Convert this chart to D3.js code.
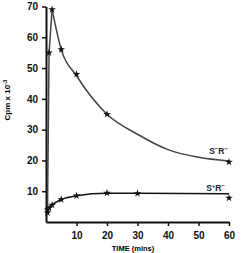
<!DOCTYPE html>
<html>
<head>
<meta charset="utf-8">
<script src="https://cdn.jsdelivr.net/npm/d3@7"></script>
<style>
  body { margin: 0; background: #fff; }
  text { font-family: "Liberation Sans", Arial, sans-serif; }
</style>
</head>
<body>
<script>
// time in minutes, counts in cpm x 10^-3 (measured points)
var timeMinus = [0.5, 1, 2, 5, 10, 20, 60]
var cpmMinus  = [4, 55, 69, 56, 48, 35, 19.5]

var timePlus = [0.5, 1, 2, 5, 10, 20, 30, 60]
var cpmPlus  = [3, 4.5, 5.5, 7.3, 8.5, 9.4, 9.3, 7.8]

// hand-drawn curves
var curveTimeMinus = [0.5, 1, 2, 5, 10, 20, 30, 40, 50, 60]
var curveCpmMinus  = [4, 55, 69, 56, 47.5, 35, 28.5, 23.5, 21, 19.8]

var curveTimePlus = [0.5, 1, 2, 5, 10, 20, 30, 60]
var curveCpmPlus  = [3, 4.5, 5.5, 7.3, 8.5, 9.3, 9.3, 9.2]

var xTicks = [10, 20, 30, 40, 50, 60]
var yTicks = [10, 20, 30, 40, 50, 60, 70]

var W = 241, H = 253

var x = d3.scaleLinear().domain([0, 60]).range([46, 229])
var y = d3.scaleLinear().domain([0, 70]).range([222, 6.5])

var svg = d3.select("body").append("svg")
    .attr("width", W).attr("height", H)

// axes
var gx = svg.append("g")
    .attr("transform", "translate(0," + y(0) + ")")
    .call(d3.axisBottom(x).tickValues(xTicks).tickSize(4).tickSizeOuter(0))
var gy = svg.append("g")
    .attr("transform", "translate(" + x(0) + ",0)")
    .call(d3.axisLeft(y).tickValues(yTicks).tickSize(4).tickSizeOuter(0))

svg.selectAll(".domain").attr("stroke", "#111").attr("stroke-width", 2)
svg.selectAll(".tick line").attr("stroke", "#111").attr("stroke-width", 1.5)
svg.selectAll(".tick text")
    .attr("fill", "#111")
    .style("font-size", "10px")
    .style("font-weight", "bold")
gx.selectAll(".tick text").attr("dy", "0.95em")
gy.selectAll(".tick text").attr("dx", "-0.1em")

// axis titles
svg.append("text")
    .attr("x", 133).attr("y", 251)
    .attr("text-anchor", "middle")
    .style("font-size", "7.5px").style("font-weight", "bold")
    .text("TIME (mins)")

var yl = svg.append("text")
    .attr("transform", "translate(10,100) rotate(-90)")
    .attr("text-anchor", "middle")
    .style("font-size", "8px").style("font-weight", "bold")
yl.append("tspan").text("Cpm x 10")
yl.append("tspan").attr("dy", "-3").style("font-size", "6px").text("-3")

// series
var series = [
  { t: timeMinus, v: cpmMinus, ct: curveTimeMinus, cv: curveCpmMinus, color: "#444" },
  { t: timePlus, v: cpmPlus, ct: curveTimePlus, cv: curveCpmPlus, color: "#111" }
]

var rise = d3.line()
    .x(d => x(d[0]))
    .y(d => y(d[1]))
var decay = d3.line()
    .x(d => x(d[0]))
    .y(d => y(d[1]))
    .curve(d3.curveMonotoneX)

series.forEach(function (s) {
  var pts = s.t.map((t, i) => [t, s.v[i]])
  var cpts = s.ct.map((t, i) => [t, s.cv[i]])
  // straight rise up to the peak, smooth curve after it
  var k = d3.maxIndex(s.cv)
  if (k == cpts.length - 1 || s.cv[k] < 20) k = 0
  var parts = [[rise, cpts.slice(0, k + 1)], [decay, cpts.slice(k)]]
  parts.forEach(function (p) {
    if (p[1].length < 2) return
    svg.append("path")
        .datum(p[1])
        .attr("fill", "none")
        .attr("stroke", s.color)
        .attr("stroke-width", 1.5)
        .attr("d", p[0])
  })
  svg.append("g").selectAll("path")
      .data(pts)
      .enter().append("path")
      .attr("transform", d => "translate(" + x(d[0]) + "," + y(d[1]) + ")")
      .attr("d", d3.symbol().type(d3.symbolStar).size(18))
      .attr("fill", "#111")
})

// curve labels
function curveLabel(xp, yp, sup1) {
  var t = svg.append("text")
      .attr("x", xp).attr("y", yp)
      .attr("text-anchor", "end")
      .style("font-size", "8.5px").style("font-weight", "bold")
      .attr("fill", "#222")
  t.append("tspan").text("S")
  t.append("tspan").attr("dy", "-3").style("font-size", "6px").text(sup1)
  t.append("tspan").attr("dy", "3").text("R")
  t.append("tspan").attr("dy", "-3").style("font-size", "6px").text("\u2212")
}
curveLabel(228, 154, "\u2212")
curveLabel(225, 191, "+")
</script>
</body>
</html>
